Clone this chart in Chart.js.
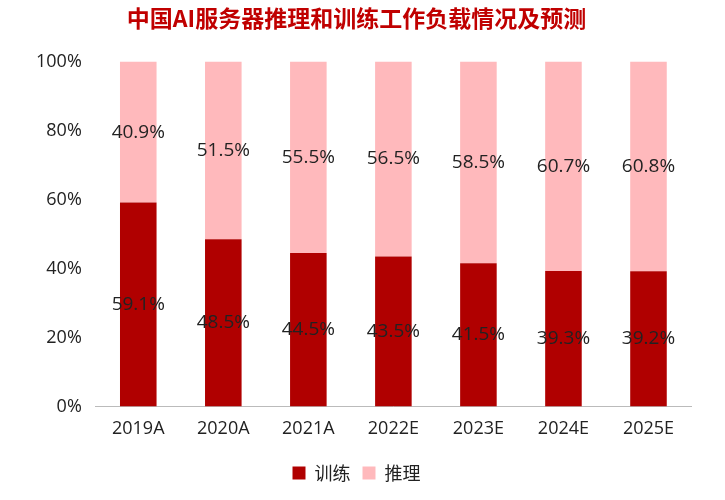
<!DOCTYPE html>
<html>
<head>
<meta charset="utf-8">
<script src="https://cdn.jsdelivr.net/npm/chart.js@4"></script>
<style>
body { margin: 0; background: #fff; }
#wrap { width: 725px; height: 500px; }
</style>
</head>
<body>
<div id="wrap"><canvas id="c"></canvas></div>
<script>
// datos del gráfico
var categorias = ['2019A', '2020A', '2021A', '2022E', '2023E', '2024E', '2025E'];
var entrenamiento = [59.1, 48.5, 44.5, 43.5, 41.5, 39.3, 39.2];
var inferencia = [40.9, 51.5, 55.5, 56.5, 58.5, 60.7, 60.8];

// plugin simple para las etiquetas en el centro de cada barra
var etiquetas = {
    id: 'etiquetas',
    afterDatasetsDraw: function(chart) {
        var ctx = chart.ctx;
        ctx.save();
        ctx.font = '19px "Open Sans", sans-serif';
        ctx.fillStyle = '#222';
        ctx.textAlign = 'center';
        ctx.textBaseline = 'middle';
        chart.data.datasets.forEach(function(ds, i) {
            chart.getDatasetMeta(i).data.forEach(function(bar, j) {
                var mid = (bar.y + bar.base) / 2;
                ctx.fillText(ds.data[j].toFixed(1) + '%', bar.x, mid);
            });
        });
        ctx.restore();
    }
};

new Chart(document.getElementById('c'), {
    type: 'bar',
    data: {
        labels: categorias,
        datasets: [
            { label: '训练', data: entrenamiento, backgroundColor: '#B00000' },
            { label: '推理', data: inferencia, backgroundColor: '#FFB9BC' }
        ]
    },
    options: {
        responsive: true,
        maintainAspectRatio: false,
        animation: false,
        layout: { padding: { left: 22, right: 34, top: 0, bottom: 8 } },
        datasets: { bar: { barPercentage: 0.43, categoryPercentage: 1 } },
        scales: {
            x: {
                stacked: true,
                grid: { display: false, drawTicks: false },
                border: { color: '#bbb' },
                ticks: { color: '#222', font: { size: 18, family: '"Open Sans", sans-serif' }, padding: 12 }
            },
            y: {
                stacked: true,
                min: 0, max: 100,
                grid: { display: false, drawTicks: false },
                border: { display: false },
                ticks: { stepSize: 20, color: '#222', font: { size: 18, family: '"Open Sans", sans-serif' }, padding: 14,
                    callback: function(v) { return v + '%'; } }
            }
        },
        plugins: {
            title: {
                display: true,
                text: '中国AI服务器推理和训练工作负载情况及预测',
                color: '#C00000',
                font: { size: 23, weight: 'bold', family: '"Noto Sans CJK SC", sans-serif' },
                padding: { top: 4, bottom: 30 }
            },
            legend: {
                position: 'bottom',
                labels: { color: '#222', boxWidth: 13, boxHeight: 13, padding: 12,
                    font: { size: 18, family: '"Noto Sans CJK SC", sans-serif' } }
            },
            tooltip: { enabled: false }
        }
    },
    plugins: [etiquetas]
});
</script>
</body>
</html>
